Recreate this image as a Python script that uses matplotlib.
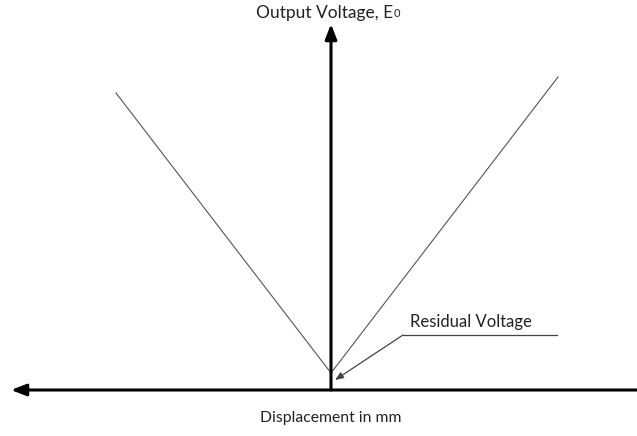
"""LVDT output characteristic: output voltage vs displacement with residual voltage."""
import matplotlib
matplotlib.use('Agg')
import matplotlib.pyplot as plt

plt.rcParams['font.family'] = ['Lato', 'DejaVu Sans']

# displacement (left arm, null point, right arm) and output voltage
displacement = [-215, 0, 227]
voltage = [297, 17, 313]
residual_voltage = voltage[1]

fig = plt.figure(figsize=(6.37, 4.36), dpi=100)
ax = fig.add_axes([0, 0, 1, 1])
ax.set_xlim(-331, 306)
ax.set_ylim(-46, 390)
ax.axis('off')

# V-shaped characteristic
ax.plot(displacement, voltage, color='#555555', linewidth=0.8, solid_joinstyle='miter')

# axes with arrowheads
axis_kw = dict(arrowstyle='-|>,head_length=0.9,head_width=0.35', color='black',
               lw=2.2, shrinkA=0, shrinkB=0)
ax.annotate('', xy=(-320, 0), xytext=(306, 0), arrowprops=axis_kw)
ax.annotate('', xy=(0, 366), xytext=(0, 0), arrowprops=axis_kw)

# title with subscript zero
t = ax.text(-6, 377, 'Output Voltage, E', fontsize=12.5, ha='center', va='center',
            color='#222222')
ax.annotate('0', xy=(1, 0.12), xycoords=t, fontsize=8, ha='left', va='bottom',
            color='#222222')
ax.text(0, -28, 'Displacement in mm', fontsize=11.3, ha='center', va='center',
        color='#222222')

# residual voltage callout
ax.annotate('', xy=(4, 10), xytext=(72, 55),
            arrowprops=dict(arrowstyle='-|>,head_length=0.5,head_width=0.2',
                            color='#444444', lw=0.9, shrinkA=0, shrinkB=0))
ax.plot([72, 226], [55, 55], color='#444444', linewidth=0.9)
ax.text(79, 68, 'Residual Voltage', fontsize=12, ha='left', va='center',
        color='#222222')

fig.savefig('out.png', dpi=100)
